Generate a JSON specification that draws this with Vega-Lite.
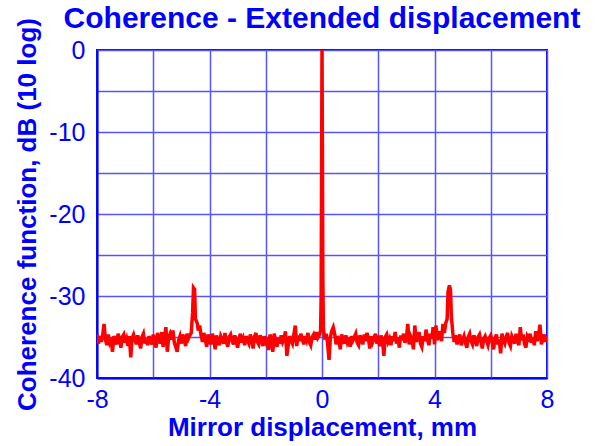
{
"$schema": "https://vega.github.io/schema/vega-lite/v6.json",
"width": 450, "height": 328,
"autosize": "none",
"padding": {"left": 97, "top": 50, "right": 54, "bottom": 68},
"background": "white",
"title": {"text": "Coherence - Extended displacement", "font": "Liberation Sans", "fontSize": 30, "fontWeight": "bold", "color": "#0000FF", "anchor": "middle", "frame": "group", "offset": -16},
"config": {
  "view": {"stroke": "#0000FF", "strokeWidth": 2},
  "axis": {"domainColor": "#0000FF", "domainWidth": 2, "gridColor": "#5555FF", "gridWidth": 1.5, "gridOpacity": 1, "ticks": false, "tickSize": 0,
    "labelFont": "Liberation Sans", "labelFontSize": 25, "labelColor": "#0000FF", "titleFont": "Liberation Sans", "titleFontSize": 26, "titleFontWeight": "bold", "titleColor": "#0000FF", "labelOverlap": false, "labelFlush": false}
},
"data": {"values": [
{"x":-8.00,"y":-34.6},{"x":-7.95,"y":-35.8},{"x":-7.90,"y":-34.9},{"x":-7.85,"y":-35.6},{"x":-7.80,"y":-34.8},{"x":-7.75,"y":-33.4},{"x":-7.70,"y":-35.3},{"x":-7.65,"y":-36.0},{"x":-7.60,"y":-34.7},{"x":-7.55,"y":-35.6},{"x":-7.50,"y":-35.1},{"x":-7.45,"y":-36.8},{"x":-7.40,"y":-34.9},{"x":-7.35,"y":-35.4},{"x":-7.30,"y":-35.9},{"x":-7.25,"y":-34.6},{"x":-7.20,"y":-35.2},{"x":-7.15,"y":-36.3},{"x":-7.10,"y":-35.0},{"x":-7.05,"y":-34.7},
{"x":-7.00,"y":-35.7},{"x":-6.95,"y":-35.2},{"x":-6.90,"y":-36.1},{"x":-6.85,"y":-34.9},{"x":-6.80,"y":-37.5},{"x":-6.75,"y":-35.1},{"x":-6.70,"y":-34.7},{"x":-6.65,"y":-35.3},{"x":-6.60,"y":-35.9},{"x":-6.55,"y":-34.8},{"x":-6.50,"y":-35.6},{"x":-6.45,"y":-36.4},{"x":-6.40,"y":-35.0},{"x":-6.35,"y":-34.6},{"x":-6.30,"y":-35.8},{"x":-6.25,"y":-35.2},{"x":-6.20,"y":-36.0},{"x":-6.15,"y":-34.9},{"x":-6.10,"y":-35.4},{"x":-6.05,"y":-35.9},
{"x":-6.00,"y":-34.7},{"x":-5.95,"y":-35.5},{"x":-5.90,"y":-36.3},{"x":-5.85,"y":-34.5},{"x":-5.80,"y":-35.2},{"x":-5.75,"y":-35.8},{"x":-5.70,"y":-34.4},{"x":-5.65,"y":-36.2},{"x":-5.60,"y":-35.1},{"x":-5.55,"y":-33.8},{"x":-5.50,"y":-36.8},{"x":-5.45,"y":-35.0},{"x":-5.40,"y":-34.6},{"x":-5.35,"y":-35.3},{"x":-5.30,"y":-34.2},{"x":-5.25,"y":-35.7},{"x":-5.20,"y":-36.2},{"x":-5.15,"y":-36.8},{"x":-5.10,"y":-35.4},{"x":-5.05,"y":-34.9},
{"x":-5.00,"y":-35.8},{"x":-4.95,"y":-34.7},{"x":-4.90,"y":-35.3},{"x":-4.85,"y":-36.1},{"x":-4.80,"y":-34.6},{"x":-4.75,"y":-35.2},{"x":-4.70,"y":-34.8},{"x":-4.65,"y":-34.5},{"x":-4.60,"y":-32.0},{"x":-4.57,"y":-29.0},{"x":-4.53,"y":-29.2},{"x":-4.50,"y":-32.8},{"x":-4.47,"y":-33.0},{"x":-4.43,"y":-33.4},{"x":-4.40,"y":-34.2},{"x":-4.35,"y":-33.6},{"x":-4.30,"y":-34.8},{"x":-4.25,"y":-35.6},{"x":-4.20,"y":-34.5},{"x":-4.15,"y":-35.3},{"x":-4.10,"y":-36.2},{"x":-4.05,"y":-34.7},
{"x":-4.00,"y":-35.4},{"x":-3.95,"y":-35.9},{"x":-3.90,"y":-34.6},{"x":-3.85,"y":-35.2},{"x":-3.80,"y":-36.5},{"x":-3.75,"y":-34.8},{"x":-3.70,"y":-35.5},{"x":-3.65,"y":-36.0},{"x":-3.60,"y":-34.9},{"x":-3.55,"y":-35.3},{"x":-3.50,"y":-35.8},{"x":-3.45,"y":-34.5},{"x":-3.40,"y":-35.6},{"x":-3.35,"y":-36.2},{"x":-3.30,"y":-35.0},{"x":-3.25,"y":-34.7},{"x":-3.20,"y":-35.4},{"x":-3.15,"y":-35.9},{"x":-3.10,"y":-34.8},{"x":-3.05,"y":-35.5},
{"x":-3.00,"y":-36.3},{"x":-2.95,"y":-35.1},{"x":-2.90,"y":-34.6},{"x":-2.85,"y":-35.7},{"x":-2.80,"y":-35.2},{"x":-2.75,"y":-36.0},{"x":-2.70,"y":-34.9},{"x":-2.65,"y":-35.4},{"x":-2.60,"y":-35.8},{"x":-2.55,"y":-34.7},{"x":-2.50,"y":-35.3},{"x":-2.45,"y":-36.4},{"x":-2.40,"y":-35.0},{"x":-2.35,"y":-34.5},{"x":-2.30,"y":-35.6},{"x":-2.25,"y":-35.9},{"x":-2.20,"y":-34.8},{"x":-2.15,"y":-35.3},{"x":-2.10,"y":-36.1},{"x":-2.05,"y":-34.9},
{"x":-2.00,"y":-35.5},{"x":-1.95,"y":-35.0},{"x":-1.90,"y":-36.6},{"x":-1.85,"y":-34.7},{"x":-1.80,"y":-35.3},{"x":-1.75,"y":-36.8},{"x":-1.70,"y":-34.6},{"x":-1.65,"y":-35.4},{"x":-1.60,"y":-36.2},{"x":-1.55,"y":-35.1},{"x":-1.50,"y":-35.8},{"x":-1.45,"y":-34.8},{"x":-1.40,"y":-35.6},{"x":-1.35,"y":-35.2},{"x":-1.30,"y":-34.3},{"x":-1.25,"y":-37.3},{"x":-1.20,"y":-36.0},{"x":-1.15,"y":-34.9},{"x":-1.10,"y":-35.4},{"x":-1.05,"y":-35.8},
{"x":-1.00,"y":-34.7},{"x":-0.95,"y":-33.6},{"x":-0.90,"y":-36.1},{"x":-0.85,"y":-34.8},{"x":-0.80,"y":-35.5},{"x":-0.75,"y":-34.6},{"x":-0.70,"y":-35.2},{"x":-0.65,"y":-35.9},{"x":-0.60,"y":-34.9},{"x":-0.55,"y":-35.4},{"x":-0.50,"y":-34.5},{"x":-0.45,"y":-35.6},{"x":-0.40,"y":-36.0},{"x":-0.35,"y":-35.0},{"x":-0.30,"y":-34.7},{"x":-0.25,"y":-35.3},{"x":-0.20,"y":-34.4},{"x":-0.15,"y":-35.1},{"x":-0.10,"y":-34.8},{"x":-0.05,"y":-34.2},
{"x":-0.03,"y":-30.0},{"x":-0.015,"y":-15.0},{"x":0.0,"y":0.0},{"x":0.015,"y":-12.0},{"x":0.03,"y":-28.0},{"x":0.05,"y":-34.0},
{"x":0.10,"y":-35.3},{"x":0.15,"y":-34.6},{"x":0.20,"y":-35.8},{"x":0.25,"y":-37.8},{"x":0.30,"y":-35.0},{"x":0.35,"y":-34.2},{"x":0.40,"y":-33.8},{"x":0.45,"y":-34.6},{"x":0.50,"y":-35.9},{"x":0.55,"y":-34.9},{"x":0.60,"y":-35.4},{"x":0.65,"y":-36.5},{"x":0.70,"y":-34.7},{"x":0.75,"y":-35.3},{"x":0.80,"y":-35.8},{"x":0.85,"y":-34.8},{"x":0.90,"y":-35.6},{"x":0.95,"y":-35.1},
{"x":1.00,"y":-36.2},{"x":1.05,"y":-34.9},{"x":1.10,"y":-35.4},{"x":1.15,"y":-35.0},{"x":1.20,"y":-34.6},{"x":1.25,"y":-35.7},{"x":1.30,"y":-36.0},{"x":1.35,"y":-34.8},{"x":1.40,"y":-35.3},{"x":1.45,"y":-35.9},{"x":1.50,"y":-34.7},{"x":1.55,"y":-35.5},{"x":1.60,"y":-34.5},{"x":1.65,"y":-35.2},{"x":1.70,"y":-36.4},{"x":1.75,"y":-34.9},{"x":1.80,"y":-35.6},{"x":1.85,"y":-35.1},{"x":1.90,"y":-34.6},{"x":1.95,"y":-35.8},
{"x":2.00,"y":-35.3},{"x":2.05,"y":-36.1},{"x":2.10,"y":-34.8},{"x":2.15,"y":-35.4},{"x":2.20,"y":-37.3},{"x":2.25,"y":-35.0},{"x":2.30,"y":-34.7},{"x":2.35,"y":-35.6},{"x":2.40,"y":-35.2},{"x":2.45,"y":-36.0},{"x":2.50,"y":-34.9},{"x":2.55,"y":-35.5},{"x":2.60,"y":-34.4},{"x":2.65,"y":-35.8},{"x":2.70,"y":-35.1},{"x":2.75,"y":-36.3},{"x":2.80,"y":-34.8},{"x":2.85,"y":-35.4},{"x":2.90,"y":-34.6},{"x":2.95,"y":-35.7},
{"x":3.00,"y":-35.2},{"x":3.05,"y":-33.4},{"x":3.10,"y":-35.9},{"x":3.15,"y":-34.9},{"x":3.20,"y":-35.3},{"x":3.25,"y":-36.5},{"x":3.30,"y":-33.6},{"x":3.35,"y":-35.6},{"x":3.40,"y":-35.1},{"x":3.45,"y":-34.4},{"x":3.50,"y":-35.8},{"x":3.55,"y":-36.2},{"x":3.60,"y":-34.9},{"x":3.65,"y":-35.5},{"x":3.70,"y":-34.1},{"x":3.75,"y":-35.3},{"x":3.80,"y":-36.0},{"x":3.85,"y":-34.6},{"x":3.90,"y":-35.2},{"x":3.95,"y":-33.8},
{"x":4.00,"y":-35.9},{"x":4.05,"y":-33.6},{"x":4.10,"y":-35.4},{"x":4.15,"y":-34.3},{"x":4.20,"y":-34.8},{"x":4.25,"y":-35.5},{"x":4.30,"y":-33.4},{"x":4.35,"y":-34.5},{"x":4.40,"y":-33.3},{"x":4.45,"y":-32.8},{"x":4.48,"y":-29.5},{"x":4.53,"y":-28.7},{"x":4.57,"y":-29.3},{"x":4.60,"y":-32.5},{"x":4.65,"y":-34.5},{"x":4.70,"y":-35.6},{"x":4.75,"y":-34.8},{"x":4.80,"y":-35.9},{"x":4.85,"y":-35.2},{"x":4.90,"y":-34.7},{"x":4.95,"y":-36.0},
{"x":5.00,"y":-35.4},{"x":5.05,"y":-34.9},{"x":5.10,"y":-35.7},{"x":5.15,"y":-36.3},{"x":5.20,"y":-35.0},{"x":5.25,"y":-34.6},{"x":5.30,"y":-35.5},{"x":5.35,"y":-35.9},{"x":5.40,"y":-34.8},{"x":5.45,"y":-35.3},{"x":5.50,"y":-36.1},{"x":5.55,"y":-35.0},{"x":5.60,"y":-34.7},{"x":5.65,"y":-35.6},{"x":5.70,"y":-36.4},{"x":5.75,"y":-35.2},{"x":5.80,"y":-34.9},{"x":5.85,"y":-35.5},{"x":5.90,"y":-36.0},{"x":5.95,"y":-35.1},
{"x":6.00,"y":-34.8},{"x":6.05,"y":-35.6},{"x":6.10,"y":-36.5},{"x":6.15,"y":-35.2},{"x":6.20,"y":-34.7},{"x":6.25,"y":-35.9},{"x":6.30,"y":-35.3},{"x":6.35,"y":-37.0},{"x":6.40,"y":-34.6},{"x":6.45,"y":-35.4},{"x":6.50,"y":-35.8},{"x":6.55,"y":-35.0},{"x":6.60,"y":-34.5},{"x":6.65,"y":-35.7},{"x":6.70,"y":-36.1},{"x":6.75,"y":-34.9},{"x":6.80,"y":-35.3},{"x":6.85,"y":-35.8},{"x":6.90,"y":-34.6},{"x":6.95,"y":-35.5},
{"x":7.00,"y":-36.0},{"x":7.05,"y":-33.8},{"x":7.10,"y":-35.4},{"x":7.15,"y":-34.7},{"x":7.20,"y":-35.8},{"x":7.25,"y":-36.3},{"x":7.30,"y":-34.9},{"x":7.35,"y":-35.2},{"x":7.40,"y":-34.6},{"x":7.45,"y":-35.7},{"x":7.50,"y":-35.1},{"x":7.55,"y":-36.0},{"x":7.60,"y":-34.3},{"x":7.65,"y":-35.5},{"x":7.70,"y":-34.8},{"x":7.75,"y":-33.5},{"x":7.80,"y":-35.9},{"x":7.85,"y":-35.3},{"x":7.90,"y":-34.7},{"x":7.95,"y":-35.6},{"x":8.00,"y":-34.9}
]},
"mark": {"type": "line", "color": "#FF0000", "strokeWidth": 3.5, "clip": true},
"encoding": {
  "x": {"field": "x", "type": "quantitative", "scale": {"domain": [-8, 8], "nice": false},
    "axis": {"values": [-8,-6,-4,-2,0,2,4,6,8], "title": "Mirror displacement, mm", "labelExpr": "datum.value % 4 === 0 ? '' + datum.value : ''", "labelPadding": 9, "titlePadding": 2}},
  "y": {"field": "y", "type": "quantitative", "scale": {"domain": [-40, 0], "nice": false},
    "axis": {"values": [-40,-35,-30,-25,-20,-15,-10,-5,0], "title": "Coherence function, dB (10 log)", "labelExpr": "datum.value % 10 === 0 ? '' + datum.value : ''", "labelPadding": 12, "titlePadding": 8}}
}
}
